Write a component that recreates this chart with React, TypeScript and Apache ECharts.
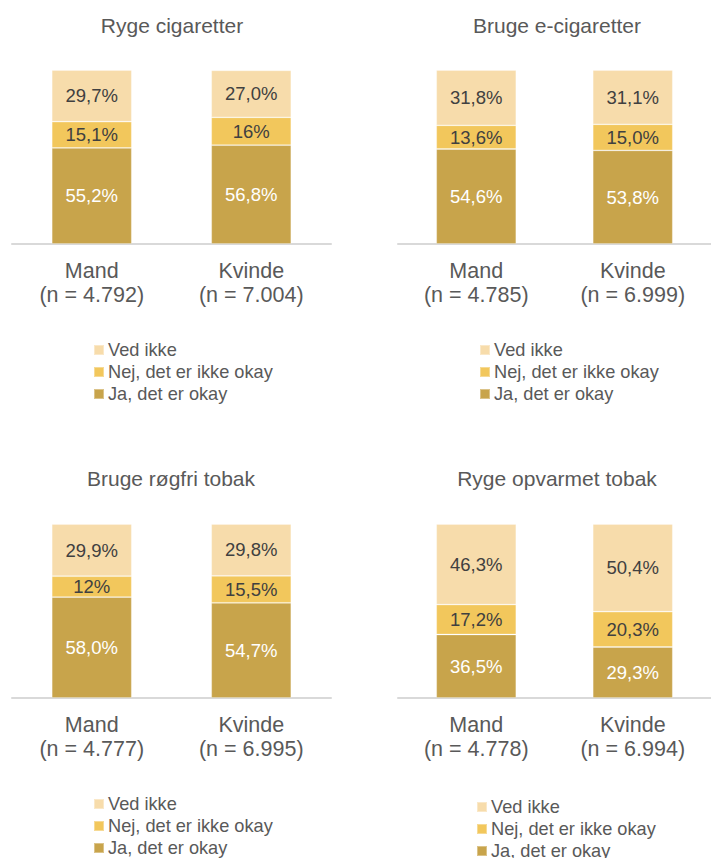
import React, { useEffect, useRef } from "react";
import * as echarts from "echarts";

const groups = ["Mand", "Kvinde"];
const panelTitles = ["Ryge cigaretter", "Bruge e-cigaretter", "Bruge røgfri tobak", "Ryge opvarmet tobak"];
const seriesNames = ["Ja, det er okay", "Nej, det er ikke okay", "Ved ikke"];
const legendOrder = ["Ved ikke", "Nej, det er ikke okay", "Ja, det er okay"];

// sample sizes per panel
const nCigaretter = ["4.792", "7.004"];
const nECigaretter = ["4.785", "6.999"];
const nRoegfri = ["4.777", "6.995"];
const nOpvarmet = ["4.778", "6.994"];

// values (%) per panel: Ja, Nej, Ved ikke
const jaCigaretter = [55.2, 56.8];
const nejCigaretter = [15.1, 16];
const vedCigaretter = [29.7, 27.0];
const jaCigaretterLbl = ["55,2%", "56,8%"];
const nejCigaretterLbl = ["15,1%", "16%"];
const vedCigaretterLbl = ["29,7%", "27,0%"];

const jaECigaretter = [54.6, 53.8];
const nejECigaretter = [13.6, 15.0];
const vedECigaretter = [31.8, 31.1];
const jaECigaretterLbl = ["54,6%", "53,8%"];
const nejECigaretterLbl = ["13,6%", "15,0%"];
const vedECigaretterLbl = ["31,8%", "31,1%"];

const jaRoegfri = [58.0, 54.7];
const nejRoegfri = [12, 15.5];
const vedRoegfri = [29.9, 29.8];
const jaRoegfriLbl = ["58,0%", "54,7%"];
const nejRoegfriLbl = ["12%", "15,5%"];
const vedRoegfriLbl = ["29,9%", "29,8%"];

const jaOpvarmet = [36.5, 29.3];
const nejOpvarmet = [17.2, 20.3];
const vedOpvarmet = [46.3, 50.4];
const jaOpvarmetLbl = ["36,5%", "29,3%"];
const nejOpvarmetLbl = ["17,2%", "20,3%"];
const vedOpvarmetLbl = ["46,3%", "50,4%"];

const panels = [
  { n: nCigaretter, vals: [jaCigaretter, nejCigaretter, vedCigaretter], lbls: [jaCigaretterLbl, nejCigaretterLbl, vedCigaretterLbl] },
  { n: nECigaretter, vals: [jaECigaretter, nejECigaretter, vedECigaretter], lbls: [jaECigaretterLbl, nejECigaretterLbl, vedECigaretterLbl] },
  { n: nRoegfri, vals: [jaRoegfri, nejRoegfri, vedRoegfri], lbls: [jaRoegfriLbl, nejRoegfriLbl, vedRoegfriLbl] },
  { n: nOpvarmet, vals: [jaOpvarmet, nejOpvarmet, vedOpvarmet], lbls: [jaOpvarmetLbl, nejOpvarmetLbl, vedOpvarmetLbl] },
];

const COLORS = ["#C8A44B", "#F2C75C", "#F7DCAB"];
const LABEL_COLORS = ["#FFFFFF", "#404040", "#404040"];
const FONT = "'Liberation Sans', Arial, sans-serif";
const TEXT = "#595959";

const gridPos = [
  { left: 12, top: 70 },
  { left: 398, top: 70 },
  { left: 12, top: 524 },
  { left: 398, top: 524 },
];
const titlePos = [
  [172, 25],
  [557, 25],
  [171, 478],
  [557, 478],
];
const legendPos = [
  { left: 88, top: 334 },
  { left: 474, top: 334 },
  { left: 88, top: 788 },
  { left: 471, top: 791 },
];

export default function App() {
  const ref = useRef<HTMLDivElement>(null);
  useEffect(() => {
    if (!ref.current) return;
    const chart = echarts.init(ref.current, null, { renderer: "svg" });
    const grid = gridPos.map((g) => ({ left: g.left, top: g.top, width: 319, height: 174 }));
    const xAxis = panels.map((p, i) => ({
      type: "category",
      gridIndex: i,
      data: groups.map((g, k) => `${g}\n(n = ${p.n[k]})`),
      axisTick: { show: false },
      axisLine: { show: true, lineStyle: { color: "#D9D9D9", width: 2 } },
      axisLabel: {
        interval: 0,
        color: TEXT,
        fontSize: 21.5,
        fontFamily: FONT,
        lineHeight: 24,
        margin: 15,
      },
    }));
    const yAxis = panels.map((_, i) => ({
      type: "value",
      gridIndex: i,
      min: 0,
      max: 100,
      show: false,
    }));
    const series: any[] = [];
    panels.forEach((p, i) => {
      seriesNames.forEach((name, s) => {
        series.push({
          type: "bar",
          name,
          xAxisIndex: i,
          yAxisIndex: i,
          stack: "p" + i,
          barWidth: 80,
          data: p.vals[s],
          itemStyle: { color: COLORS[s], borderColor: "rgba(255,255,255,0.35)", borderWidth: 0.8 },
          label: {
            show: true,
            position: "inside",
            color: LABEL_COLORS[s],
            fontSize: 18.5,
            fontFamily: FONT,
            formatter: (prm: any) => p.lbls[s][prm.dataIndex],
          },
        });
      });
    });
    const legend = legendPos.map((lp) => ({
      orient: "vertical",
      left: lp.left,
      top: lp.top,
      height: 120,
      data: legendOrder,
      icon: "rect",
      itemWidth: 10,
      itemHeight: 10,
      itemGap: 0,
      selectedMode: false,
      textStyle: { color: TEXT, fontSize: 18.2, fontFamily: FONT, lineHeight: 22, padding: [0, 0, 0, -1] },
    }));
    const graphic = panelTitles.map((t, i) => ({
      type: "text",
      x: titlePos[i][0],
      y: titlePos[i][1],
      style: {
        text: t,
        fill: TEXT,
        font: `21px ${FONT}`,
        textAlign: "center",
        textVerticalAlign: "middle",
      },
    }));
    chart.setOption({
      animation: false,
      backgroundColor: "#FFFFFF",
      grid,
      xAxis,
      yAxis,
      series,
      legend,
      graphic,
    });
    return () => chart.dispose();
  }, []);
  return (
    <div
      ref={ref}
      style={{ position: "fixed", left: 0, top: 0, width: 711, height: 858 }}
    />
  );
}
